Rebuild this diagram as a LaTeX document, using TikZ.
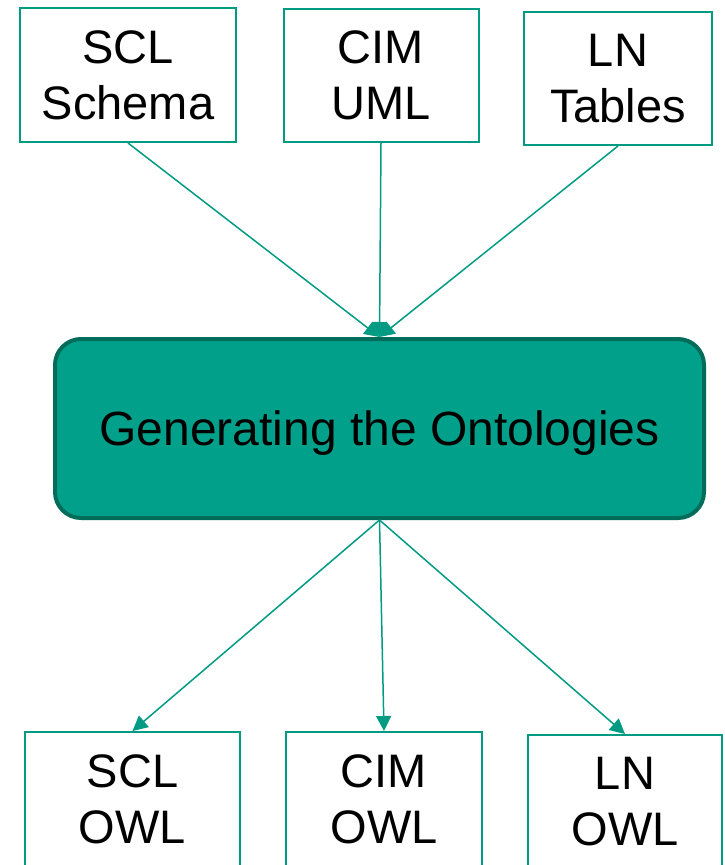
\documentclass[tikz,border=0pt]{standalone}
\usepackage{fontspec}
\setmainfont{Liberation Sans}
\usetikzlibrary{arrows.meta}
\definecolor{tealline}{RGB}{0,155,130}
\definecolor{tealfill}{RGB}{0,160,138}
\definecolor{tealdark}{RGB}{0,108,90}
\tikzset{
  srcbox/.style={draw=tealline, line width=2pt, fill=white, align=center,
    inner sep=0pt, font=\fontsize{47}{56}\selectfont, text=black},
  genbox/.style={draw=tealdark, fill=tealfill, line width=4pt, rounded corners=26pt,
    inner sep=0pt, text depth=0pt, font=\fontsize{48}{58}\selectfont, text=black},
  conn/.style={draw=tealline, line width=1.5pt,
    -{Triangle[length=15pt,width=15pt]}, color=tealline}
}
\begin{document}
\begin{tikzpicture}[x=1pt,y=-1pt]
\useasboundingbox (0,0) rectangle (725,865);
\clip (0,0) rectangle (725,865);

% source models
\node[srcbox, minimum width=216pt, minimum height=134pt] (scl) at (128,75) {SCL\\Schema};
\node[srcbox, minimum width=195pt, minimum height=133pt] (cim) at (381,75.5) {CIM\\UML};
\node[srcbox, minimum width=188pt, minimum height=133pt] (ln)  at (618,78.5) {LN\\Tables};

% generator
\node[genbox, minimum width=649pt, minimum height=179pt] (gen) at (379.5,428.5) {Generating the Ontologies};

% resulting ontologies
\node[srcbox, minimum width=215pt, minimum height=134pt] (sclowl) at (132.5,799) {SCL\\OWL};
\node[srcbox, minimum width=196pt, minimum height=134pt] (cimowl) at (384,799) {CIM\\OWL};
\node[srcbox, minimum width=194pt, minimum height=134pt] (lnowl)  at (625,802) {LN\\OWL};

% inputs
\draw[conn] (scl.south) -- (gen.north);
\draw[conn] (cim.south) -- (gen.north);
\draw[conn] (ln.south) -- (gen.north);

% outputs
\draw[conn] (gen.south) -- (sclowl.north);
\draw[conn] (gen.south) -- (cimowl.north);
\draw[conn] (gen.south) -- (lnowl.north);
\end{tikzpicture}
\end{document}
